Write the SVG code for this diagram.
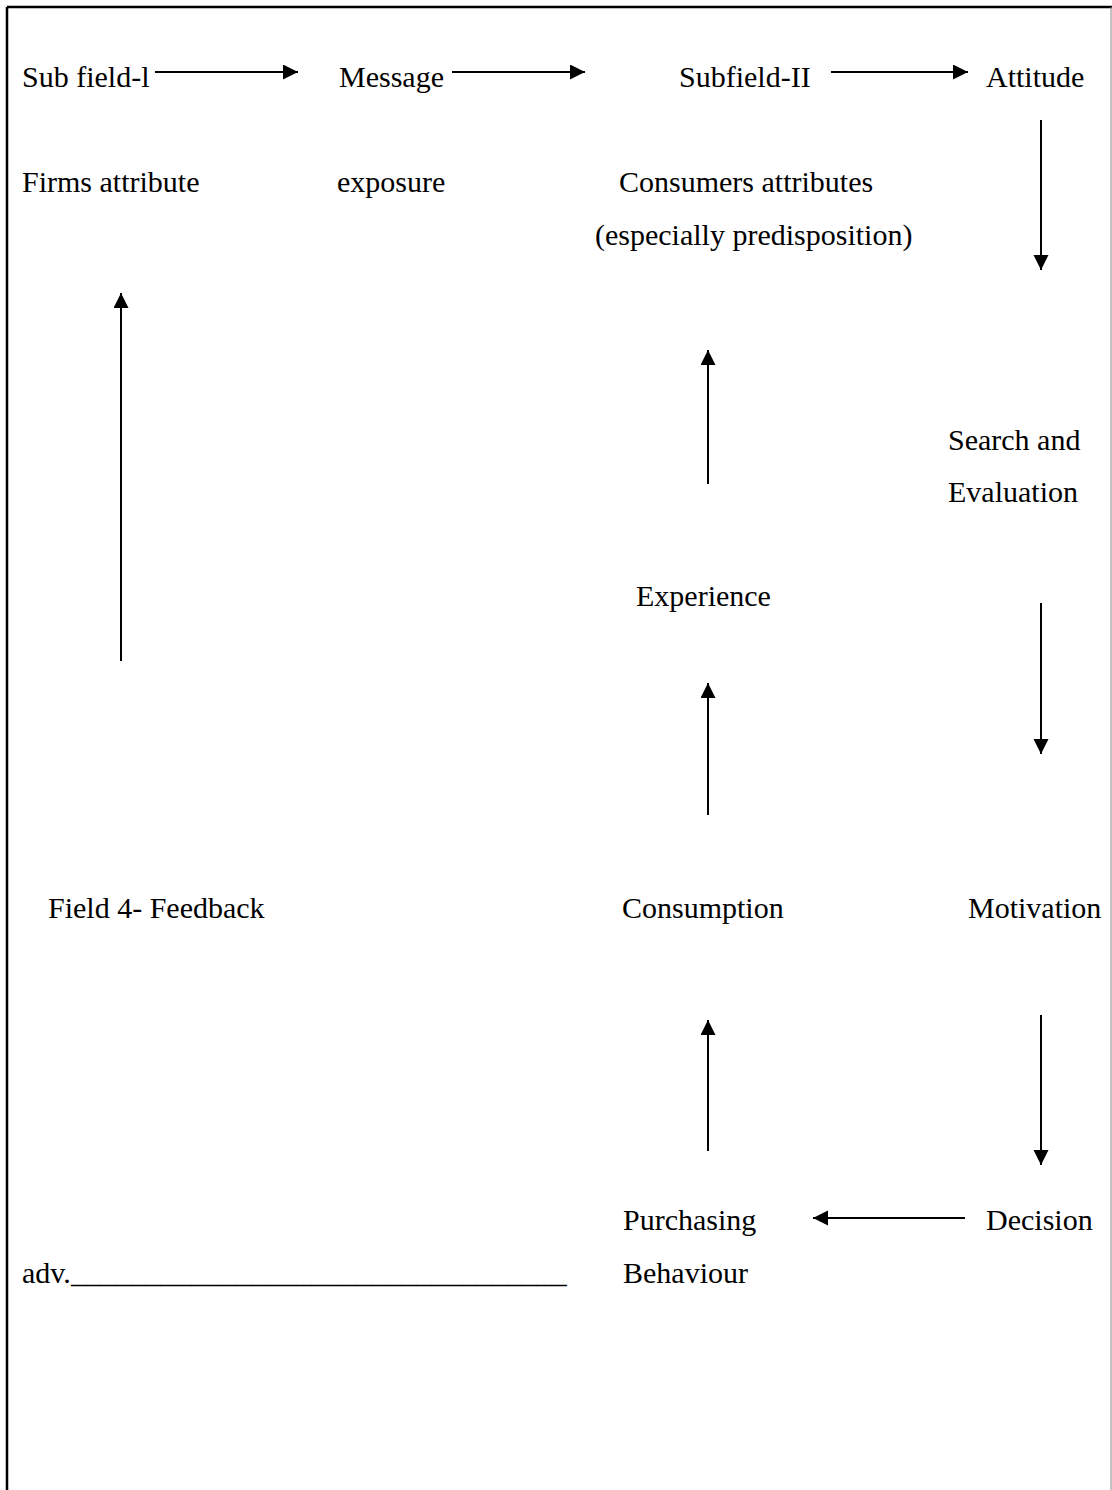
<svg xmlns="http://www.w3.org/2000/svg" width="1112" height="1490" viewBox="0 0 1112 1490">
<style>
text{font-family:"Liberation Serif","Times New Roman",serif;font-size:30px;fill:#000}
.c{stroke:#000;stroke-width:2;fill:none}
.b{stroke:#000;stroke-width:2.5;fill:none}
</style>
<defs>
<marker id="ah" markerUnits="userSpaceOnUse" markerWidth="16" markerHeight="16" refX="15" refY="7.5" orient="auto">
<path d="M0,0 L15,7.5 L0,15 Z" fill="#000"/>
</marker>
</defs>
<rect width="1112" height="1490" fill="#fff"/>
<g id="border">
<line class="b" x1="7" y1="7" x2="1112" y2="7"/>
<line class="b" x1="7" y1="7" x2="7" y2="1490"/>
<line stroke="#888" stroke-width="1" x1="1111" y1="7" x2="1111" y2="1490"/>
</g>
<g id="connectors">
<line class="c" x1="155" y1="72" x2="298" y2="72" marker-end="url(#ah)"/>
<line class="c" x1="452" y1="72" x2="585" y2="72" marker-end="url(#ah)"/>
<line class="c" x1="831" y1="72" x2="968" y2="72" marker-end="url(#ah)"/>
<line class="c" x1="1041" y1="120" x2="1041" y2="270" marker-end="url(#ah)"/>
<line class="c" x1="1041" y1="603" x2="1041" y2="754" marker-end="url(#ah)"/>
<line class="c" x1="1041" y1="1015" x2="1041" y2="1165" marker-end="url(#ah)"/>
<line class="c" x1="965" y1="1218" x2="813" y2="1218" marker-end="url(#ah)"/>
<line class="c" x1="708" y1="1151" x2="708" y2="1020" marker-end="url(#ah)"/>
<line class="c" x1="708" y1="815" x2="708" y2="683" marker-end="url(#ah)"/>
<line class="c" x1="708" y1="484" x2="708" y2="350" marker-end="url(#ah)"/>
<line class="c" x1="121" y1="661" x2="121" y2="293" marker-end="url(#ah)"/>
</g>
<g id="subfield1"><text x="22" y="87">Sub field-l</text></g>
<g id="message"><text x="339" y="87">Message</text></g>
<g id="subfield2"><text x="679" y="87">Subfield-II</text></g>
<g id="attitude"><text x="986" y="87">Attitude</text></g>
<g id="firms"><text x="22" y="192">Firms attribute</text></g>
<g id="exposure"><text x="337" y="192">exposure</text></g>
<g id="consumers"><text x="619" y="192">Consumers attributes</text><text x="595" y="245">(especially predisposition)</text></g>
<g id="search"><text x="948" y="450">Search and</text><text x="948" y="502">Evaluation</text></g>
<g id="experience"><text x="636" y="606">Experience</text></g>
<g id="feedback"><text x="48" y="918">Field 4- Feedback</text></g>
<g id="consumption"><text x="622" y="918">Consumption</text></g>
<g id="motivation"><text x="968" y="918">Motivation</text></g>
<g id="purchasing"><text x="623" y="1230">Purchasing</text><text x="623" y="1283">Behaviour</text></g>
<g id="decision"><text x="986" y="1230">Decision</text></g>
<g id="adv"><text x="22" y="1283">adv.<tspan textLength="496" lengthAdjust="spacingAndGlyphs">_________________________________</tspan></text></g>
</svg>
